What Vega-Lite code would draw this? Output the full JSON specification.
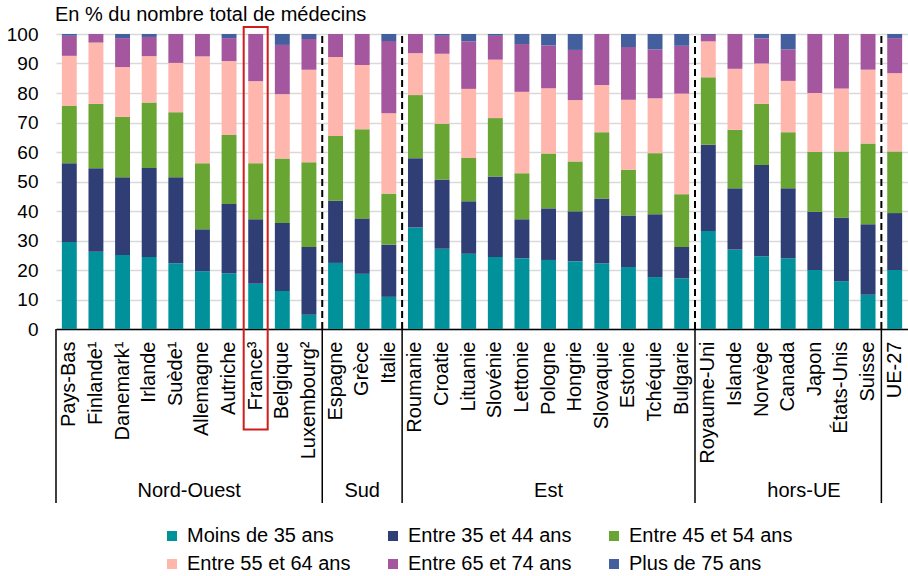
{
  "$schema": "https://vega.github.io/schema/vega-lite/v6.json",
  "width": 852,
  "height": 295,
  "autosize": {"type": "none"},
  "padding": {"left": 56, "top": 34, "right": 0, "bottom": 247},
  "background": "white",
  "config": {
    "font": "Liberation Sans",
    "view": {"stroke": null},
    "axis": {"labelColor": "black", "labelFont": "Liberation Sans"},
    "axisX": {"title": null, "labelAngle": -90, "labelFontSize": 20, "labelPadding": 12, "labelLimit": 300, "ticks": false, "domainColor": "black", "domainWidth": 1.5},
    "axisY": {"title": null, "tickCount": 10, "labelOverlap": false, "labelFontSize": 19, "labelPadding": 18, "ticks": false, "domain": false, "gridColor": "#D9D9D9", "gridWidth": 1.5},
    "legend": {"labelFont": "Liberation Sans"}
  },
  "title": {
    "text": "En % du nombre total de médecins",
    "anchor": "start",
    "frame": "group",
    "fontSize": 20,
    "fontWeight": "normal",
    "color": "black",
    "offset": 0,
    "dx": -1
  },
  "datasets": {
    "ages": [
      {"age": "Moins de 35 ans", "rang": 1},
      {"age": "Entre 35 et 44 ans", "rang": 2},
      {"age": "Entre 45 et 54 ans", "rang": 3},
      {"age": "Entre 55 et 64 ans", "rang": 4},
      {"age": "Entre 65 et 74 ans", "rang": 5},
      {"age": "Plus de 75 ans", "rang": 6}
    ],
    "bars": [
      {"pays": "Pays-Bas", "Moins de 35 ans": 29.5, "Entre 35 et 44 ans": 26.7, "Entre 45 et 54 ans": 19.4, "Entre 55 et 64 ans": 17.0, "Entre 65 et 74 ans": 6.8, "Plus de 75 ans": 0.6},
      {"pays": "Finlande¹", "Moins de 35 ans": 26.2, "Entre 35 et 44 ans": 28.3, "Entre 45 et 54 ans": 21.8, "Entre 55 et 64 ans": 20.8, "Entre 65 et 74 ans": 2.9, "Plus de 75 ans": 0},
      {"pays": "Danemark¹", "Moins de 35 ans": 25.1, "Entre 35 et 44 ans": 26.3, "Entre 45 et 54 ans": 20.5, "Entre 55 et 64 ans": 16.9, "Entre 65 et 74 ans": 9.8, "Plus de 75 ans": 1.4},
      {"pays": "Irlande", "Moins de 35 ans": 24.4, "Entre 35 et 44 ans": 30.2, "Entre 45 et 54 ans": 22.2, "Entre 55 et 64 ans": 15.7, "Entre 65 et 74 ans": 6.5, "Plus de 75 ans": 1.0},
      {"pays": "Suède¹", "Moins de 35 ans": 22.3, "Entre 35 et 44 ans": 29.1, "Entre 45 et 54 ans": 22.1, "Entre 55 et 64 ans": 16.7, "Entre 65 et 74 ans": 9.8, "Plus de 75 ans": 0},
      {"pays": "Allemagne", "Moins de 35 ans": 19.6, "Entre 35 et 44 ans": 14.2, "Entre 45 et 54 ans": 22.4, "Entre 55 et 64 ans": 36.2, "Entre 65 et 74 ans": 7.6, "Plus de 75 ans": 0},
      {"pays": "Autriche", "Moins de 35 ans": 18.9, "Entre 35 et 44 ans": 23.5, "Entre 45 et 54 ans": 23.4, "Entre 55 et 64 ans": 25.0, "Entre 65 et 74 ans": 7.8, "Plus de 75 ans": 1.4},
      {"pays": "France³", "Moins de 35 ans": 15.3, "Entre 35 et 44 ans": 21.9, "Entre 45 et 54 ans": 19.0, "Entre 55 et 64 ans": 27.8, "Entre 65 et 74 ans": 16.0, "Plus de 75 ans": 0},
      {"pays": "Belgique", "Moins de 35 ans": 12.9, "Entre 35 et 44 ans": 23.0, "Entre 45 et 54 ans": 21.9, "Entre 55 et 64 ans": 21.8, "Entre 65 et 74 ans": 16.7, "Plus de 75 ans": 3.7},
      {"pays": "Luxembourg²", "Moins de 35 ans": 4.8, "Entre 35 et 44 ans": 23.0, "Entre 45 et 54 ans": 28.7, "Entre 55 et 64 ans": 31.4, "Entre 65 et 74 ans": 10.4, "Plus de 75 ans": 1.7},
      {"pays": "Espagne", "Moins de 35 ans": 22.4, "Entre 35 et 44 ans": 21.1, "Entre 45 et 54 ans": 21.9, "Entre 55 et 64 ans": 26.8, "Entre 65 et 74 ans": 7.8, "Plus de 75 ans": 0},
      {"pays": "Grèce", "Moins de 35 ans": 18.7, "Entre 35 et 44 ans": 18.8, "Entre 45 et 54 ans": 30.2, "Entre 55 et 64 ans": 21.8, "Entre 65 et 74 ans": 10.5, "Plus de 75 ans": 0},
      {"pays": "Italie", "Moins de 35 ans": 10.9, "Entre 35 et 44 ans": 17.7, "Entre 45 et 54 ans": 17.3, "Entre 55 et 64 ans": 27.2, "Entre 65 et 74 ans": 24.5, "Plus de 75 ans": 2.4},
      {"pays": "Roumanie", "Moins de 35 ans": 34.4, "Entre 35 et 44 ans": 23.5, "Entre 45 et 54 ans": 21.4, "Entre 55 et 64 ans": 14.2, "Entre 65 et 74 ans": 6.5, "Plus de 75 ans": 0},
      {"pays": "Croatie", "Moins de 35 ans": 27.2, "Entre 35 et 44 ans": 23.5, "Entre 45 et 54 ans": 18.9, "Entre 55 et 64 ans": 23.7, "Entre 65 et 74 ans": 6.1, "Plus de 75 ans": 0.6},
      {"pays": "Lituanie", "Moins de 35 ans": 25.5, "Entre 35 et 44 ans": 17.8, "Entre 45 et 54 ans": 14.7, "Entre 55 et 64 ans": 23.4, "Entre 65 et 74 ans": 16.1, "Plus de 75 ans": 2.5},
      {"pays": "Slovénie", "Moins de 35 ans": 24.4, "Entre 35 et 44 ans": 27.3, "Entre 45 et 54 ans": 19.8, "Entre 55 et 64 ans": 19.8, "Entre 65 et 74 ans": 8.1, "Plus de 75 ans": 0.6},
      {"pays": "Lettonie", "Moins de 35 ans": 24.0, "Entre 35 et 44 ans": 13.2, "Entre 45 et 54 ans": 15.6, "Entre 55 et 64 ans": 27.6, "Entre 65 et 74 ans": 16.2, "Plus de 75 ans": 3.4},
      {"pays": "Pologne", "Moins de 35 ans": 23.4, "Entre 35 et 44 ans": 17.5, "Entre 45 et 54 ans": 18.6, "Entre 55 et 64 ans": 22.1, "Entre 65 et 74 ans": 14.5, "Plus de 75 ans": 3.9},
      {"pays": "Hongrie", "Moins de 35 ans": 23.0, "Entre 35 et 44 ans": 16.9, "Entre 45 et 54 ans": 16.9, "Entre 55 et 64 ans": 20.8, "Entre 65 et 74 ans": 17.0, "Plus de 75 ans": 5.4},
      {"pays": "Slovaquie", "Moins de 35 ans": 22.3, "Entre 35 et 44 ans": 21.9, "Entre 45 et 54 ans": 22.5, "Entre 55 et 64 ans": 16.0, "Entre 65 et 74 ans": 17.3, "Plus de 75 ans": 0},
      {"pays": "Estonie", "Moins de 35 ans": 21.0, "Entre 35 et 44 ans": 17.5, "Entre 45 et 54 ans": 15.5, "Entre 55 et 64 ans": 23.7, "Entre 65 et 74 ans": 17.9, "Plus de 75 ans": 4.4},
      {"pays": "Tchéquie", "Moins de 35 ans": 17.6, "Entre 35 et 44 ans": 21.3, "Entre 45 et 54 ans": 20.7, "Entre 55 et 64 ans": 18.6, "Entre 65 et 74 ans": 16.6, "Plus de 75 ans": 5.2},
      {"pays": "Bulgarie", "Moins de 35 ans": 17.2, "Entre 35 et 44 ans": 10.6, "Entre 45 et 54 ans": 17.9, "Entre 55 et 64 ans": 34.1, "Entre 65 et 74 ans": 16.2, "Plus de 75 ans": 4.0},
      {"pays": "Royaume-Uni", "Moins de 35 ans": 33.2, "Entre 35 et 44 ans": 29.3, "Entre 45 et 54 ans": 22.8, "Entre 55 et 64 ans": 12.2, "Entre 65 et 74 ans": 2.2, "Plus de 75 ans": 0.3},
      {"pays": "Islande", "Moins de 35 ans": 26.9, "Entre 35 et 44 ans": 20.8, "Entre 45 et 54 ans": 19.8, "Entre 55 et 64 ans": 20.7, "Entre 65 et 74 ans": 11.8, "Plus de 75 ans": 0},
      {"pays": "Norvège", "Moins de 35 ans": 24.7, "Entre 35 et 44 ans": 30.9, "Entre 45 et 54 ans": 20.7, "Entre 55 et 64 ans": 13.7, "Entre 65 et 74 ans": 8.5, "Plus de 75 ans": 1.5},
      {"pays": "Canada", "Moins de 35 ans": 24.0, "Entre 35 et 44 ans": 23.7, "Entre 45 et 54 ans": 19.0, "Entre 55 et 64 ans": 17.4, "Entre 65 et 74 ans": 10.7, "Plus de 75 ans": 5.2},
      {"pays": "Japon", "Moins de 35 ans": 20.0, "Entre 35 et 44 ans": 19.7, "Entre 45 et 54 ans": 20.3, "Entre 55 et 64 ans": 20.0, "Entre 65 et 74 ans": 20.0, "Plus de 75 ans": 0},
      {"pays": "États-Unis", "Moins de 35 ans": 16.2, "Entre 35 et 44 ans": 21.6, "Entre 45 et 54 ans": 22.4, "Entre 55 et 64 ans": 21.3, "Entre 65 et 74 ans": 18.5, "Plus de 75 ans": 0},
      {"pays": "Suisse", "Moins de 35 ans": 11.6, "Entre 35 et 44 ans": 23.9, "Entre 45 et 54 ans": 27.4, "Entre 55 et 64 ans": 25.0, "Entre 65 et 74 ans": 12.1, "Plus de 75 ans": 0},
      {"pays": "UE-27", "Moins de 35 ans": 20.0, "Entre 35 et 44 ans": 19.3, "Entre 45 et 54 ans": 20.9, "Entre 55 et 64 ans": 26.5, "Entre 65 et 74 ans": 11.9, "Plus de 75 ans": 1.4}
    ],
    "separators": [
      {"pays": "Espagne"}, {"pays": "Roumanie"}, {"pays": "Royaume-Uni"}, {"pays": "UE-27"}
    ],
    "lines": [
      {"pays": "Pays-Bas"}, {"pays": "Espagne"}, {"pays": "Roumanie"}, {"pays": "Royaume-Uni"}, {"pays": "UE-27"}
    ],
    "groupsEdge": [
      {"pays": "Suède¹", "groupe": "Nord-Ouest"}
    ],
    "groupsRight": [
      {"pays": "Canada", "groupe": "hors-UE"}
    ],
    "groupsMid": [
      {"pays": "Grèce", "groupe": "Sud"},
      {"pays": "Pologne", "groupe": "Est"}
    ],
    "highlight": [{"pays": "France³"}]
  },
  "layer": [
    {
      "data": {"name": "bars"},
      "transform": [
        {"fold": ["Moins de 35 ans", "Entre 35 et 44 ans", "Entre 45 et 54 ans", "Entre 55 et 64 ans", "Entre 65 et 74 ans", "Plus de 75 ans"], "as": ["age", "part"]},
        {"lookup": "age", "from": {"data": {"name": "ages"}, "key": "age", "fields": ["rang"]}}
      ],
      "mark": {"type": "bar"},
      "encoding": {
        "x": {
          "field": "pays", "type": "nominal", "sort": null,
          "scale": {"paddingInner": 0.44, "paddingOuter": 0.22}
        },
        "y": {
          "field": "part", "type": "quantitative", "stack": "zero",
          "scale": {"domain": [0, 100], "nice": false}
        },
        "order": {"field": "rang", "type": "quantitative", "sort": "ascending"},
        "color": {
          "field": "age", "type": "nominal",
          "sort": ["Moins de 35 ans", "Entre 35 et 44 ans", "Entre 45 et 54 ans", "Entre 55 et 64 ans", "Entre 65 et 74 ans", "Plus de 75 ans"],
          "scale": {
            "domain": ["Moins de 35 ans", "Entre 35 et 44 ans", "Entre 45 et 54 ans", "Entre 55 et 64 ans", "Entre 65 et 74 ans", "Plus de 75 ans"],
            "range": ["#00919A", "#2F3E75", "#68A533", "#FFB6AD", "#A4569E", "#445F9D"]
          },
          "legend": {
            "title": null, "orient": "none", "legendX": 106, "legendY": 492,
            "direction": "horizontal", "columns": 3, "symbolType": "square",
            "symbolSize": 100, "symbolStrokeWidth": 0, "labelFontSize": 20,
            "labelColor": "black", "labelOffset": 5, "columnPadding": 32,
            "rowPadding": 8, "labelLimit": 300
          }
        }
      }
    },
    {
      "data": {"name": "separators"},
      "mark": {"type": "rule", "color": "black", "strokeWidth": 2, "strokeDash": [7, 4]},
      "encoding": {
        "x": {"field": "pays", "type": "nominal", "sort": null, "bandPosition": -0.393},
        "y": {"datum": 0, "type": "quantitative"},
        "y2": {"datum": 100.7}
      }
    },
    {
      "data": {"name": "lines"},
      "mark": {"type": "rule", "color": "black", "strokeWidth": 1.5},
      "encoding": {
        "x": {"field": "pays", "type": "nominal", "sort": null, "bandPosition": -0.393},
        "y": {"datum": 0, "type": "quantitative"},
        "y2": {"datum": -59}
      }
    },
    {
      "data": {"name": "groupsEdge"},
      "mark": {"type": "text", "fontSize": 20, "color": "black", "baseline": "middle", "align": "center"},
      "encoding": {
        "x": {"field": "pays", "type": "nominal", "sort": null, "bandPosition": 1.393},
        "y": {"datum": -54.8, "type": "quantitative"},
        "text": {"field": "groupe"}
      }
    },
    {
      "data": {"name": "groupsRight"},
      "mark": {"type": "text", "fontSize": 20, "color": "black", "baseline": "middle", "align": "center"},
      "encoding": {
        "x": {"field": "pays", "type": "nominal", "sort": null, "bandPosition": 1.56},
        "y": {"datum": -54.8, "type": "quantitative"},
        "text": {"field": "groupe"}
      }
    },
    {
      "data": {"name": "groupsMid"},
      "mark": {"type": "text", "fontSize": 20, "color": "black", "baseline": "middle", "align": "center"},
      "encoding": {
        "x": {"field": "pays", "type": "nominal", "sort": null, "bandPosition": 0.5},
        "y": {"datum": -54.8, "type": "quantitative"},
        "text": {"field": "groupe"}
      }
    },
    {
      "data": {"name": "highlight"},
      "mark": {"type": "bar", "fill": null, "fillOpacity": 0, "stroke": "#D01C1C", "strokeWidth": 2, "width": 24},
      "encoding": {
        "x": {"field": "pays", "type": "nominal", "sort": null},
        "y": {"datum": 102.4, "type": "quantitative"},
        "y2": {"datum": -34.1}
      }
    }
  ]
}
